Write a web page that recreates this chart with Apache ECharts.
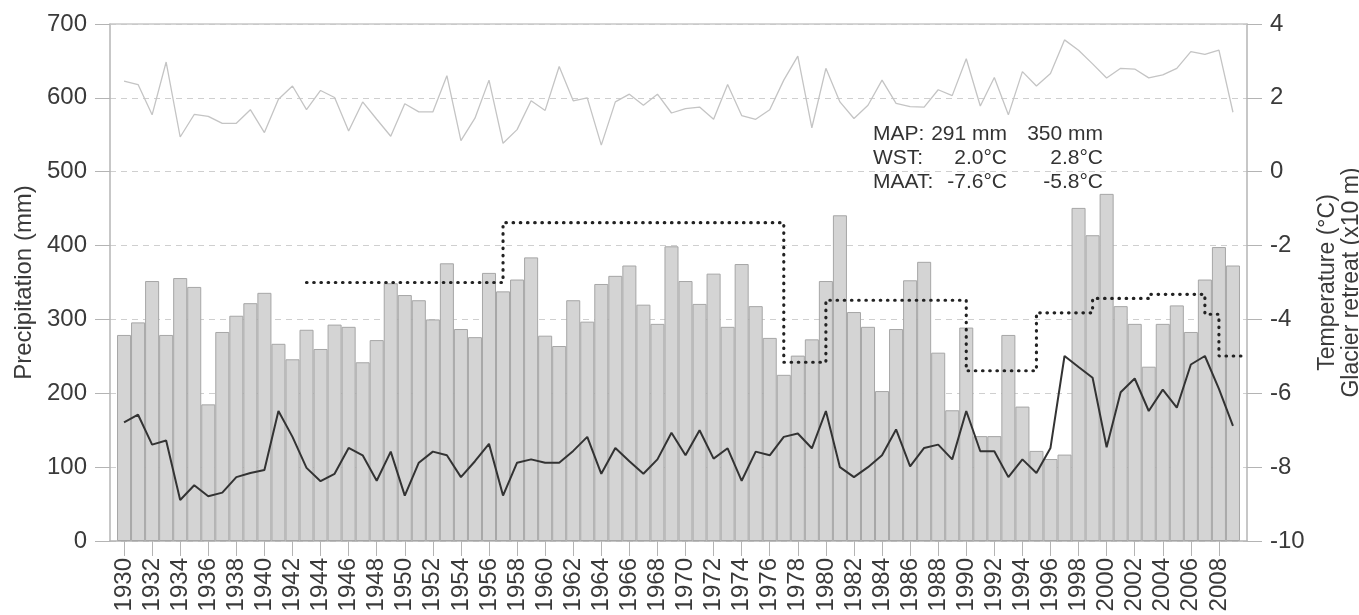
<!DOCTYPE html>
<html>
<head>
<meta charset="utf-8">
<script src="https://cdn.jsdelivr.net/npm/echarts@6/dist/echarts.min.js"></script>
<style>html,body{margin:0;padding:0;background:#fff}#c{width:1359px;height:615px}</style>
</head>
<body>
<div id="c"></div>
<script>
// ---- data ----
const years = [];
for (let y = 1930; y <= 2009; y++) years.push(String(y));

const precipitation = [279,296,352,279,356,344,185,283,305,322,336,267,246,286,260,293,290,242,272,349,
  333,326,300,376,287,276,363,338,354,384,278,264,326,297,348,359,373,320,294,399,
  352,321,362,290,375,318,275,225,251,273,352,441,310,290,203,287,353,378,255,177,
  289,142,142,279,182,122,111,117,451,414,470,318,294,236,294,319,283,354,398,373];

// Warm season temperature (°C)
const wst = [2.45,2.36,1.54,2.97,0.94,1.55,1.50,1.31,1.31,1.68,1.06,1.96,2.32,1.68,2.20,2.01,1.10,1.89,1.42,0.96,
  1.84,1.62,1.62,2.60,0.84,1.45,2.48,0.77,1.14,1.92,1.66,2.85,1.92,2.00,0.72,1.89,2.10,1.80,2.10,1.59,
  1.71,1.75,1.42,2.36,1.52,1.42,1.68,2.48,3.13,1.19,2.80,1.89,1.44,1.80,2.48,1.85,1.76,1.75,2.22,2.06,
  3.06,1.78,2.55,1.54,2.71,2.32,2.66,3.57,3.29,2.92,2.54,2.80,2.78,2.54,2.62,2.80,3.25,3.18,3.29,1.61];

// Mean annual air temperature (°C)
const maat = [-6.79,-6.58,-7.39,-7.28,-8.89,-8.49,-8.79,-8.69,-8.27,-8.16,-8.08,-6.48,-7.18,-8.02,-8.38,-8.18,-7.48,-7.68,-8.37,-7.58,
  -8.77,-7.88,-7.58,-7.68,-8.27,-7.84,-7.37,-8.77,-7.88,-7.79,-7.88,-7.88,-7.56,-7.18,-8.18,-7.48,-7.84,-8.18,-7.79,-7.07,
  -7.68,-7.00,-7.77,-7.49,-8.37,-7.58,-7.68,-7.18,-7.09,-7.49,-6.48,-8.00,-8.27,-8.00,-7.68,-6.98,-7.98,-7.48,-7.39,-7.79,
  -6.48,-7.57,-7.57,-8.27,-7.79,-8.16,-7.48,-4.99,-5.29,-5.58,-7.46,-5.97,-5.60,-6.48,-5.90,-6.39,-5.22,-4.99,-5.88,-6.88];

// Glacier retreat (x10 m), step values (null = no data)
const glacier = [null,null,null,null,null,null,null,null,null,null,null,null,null,
  -3.0,-3.0,-3.0,-3.0,-3.0,-3.0,-3.0,-3.0,-3.0,-3.0,-3.0,-3.0,-3.0,-3.0,
  -1.38,-1.38,-1.38,-1.38,-1.38,-1.38,-1.38,-1.38,-1.38,-1.38,-1.38,-1.38,-1.38,-1.38,-1.38,-1.38,-1.38,-1.38,-1.38,-1.38,
  -5.16,-5.16,-5.16,
  -3.48,-3.48,-3.48,-3.48,-3.48,-3.48,-3.48,-3.48,-3.48,-3.48,
  -5.39,-5.39,-5.39,-5.39,-5.39,
  -3.82,-3.82,-3.82,-3.82,
  -3.43,-3.43,-3.43,-3.43,
  -3.32,-3.32,-3.32,-3.32,
  -3.86,-4.99,-4.99];

const leftTicks = {min: 0, max: 700, interval: 100};
const rightTicks = {min: -10, max: 4, interval: 2};

const annotation = [
  ['MAP:', '291 mm', '350 mm'],
  ['WST:', '2.0°C', '2.8°C'],
  ['MAAT:', '-7.6°C', '-5.8°C']
];

// ---- chart ----
const pad = a => [null].concat(a, [null]);
const axisCats = [String(+years[0] - 1)].concat(years, [String(+years[years.length - 1] + 1)]);
const showYear = (i, v) => { const y = +v; return y >= 1930 && y <= 2008 && y % 2 === 0; };

const FONT = "'Liberation Sans', Arial, sans-serif";
const TXT = '#3a3a3a';
const AX = '#b4b4b4';

const chart = echarts.init(document.getElementById('c'), null, {renderer: 'canvas'});

const graphics = [];
annotation.forEach((row, r) => {
  const y = 134 + r * 24;
  const st = (t, align) => ({text: t, fill: '#333', font: '21px ' + FONT, textAlign: align, textVerticalAlign: 'middle'});
  graphics.push({type: 'text', x: 873, y: y, style: st(row[0], 'left')});
  graphics.push({type: 'text', x: 1007, y: y, style: st(row[1], 'right')});
  graphics.push({type: 'text', x: 1103, y: y, style: st(row[2], 'right')});
});

chart.setOption({
  animation: false,
  backgroundColor: '#fff',
  textStyle: {fontFamily: FONT},
  grid: {left: 110, right: 112, top: 24, bottom: 74, containLabel: false, outerBoundsMode: 'none'},
  xAxis: [{
    type: 'category', data: axisCats, boundaryGap: false,
    axisLine: {onZero: false, lineStyle: {color: AX, width: 1.5}},
    axisTick: {interval: showYear, length: 15, lineStyle: {color: AX}},
    axisLabel: {interval: showYear, rotate: 90, fontSize: 24, color: TXT, fontFamily: FONT, margin: 17},
    splitLine: {show: false}
  }, {
    type: 'category', data: axisCats, boundaryGap: false, position: 'top',
    axisLine: {show: true, onZero: false, lineStyle: {color: '#c8c8c8', width: 1.5}},
    axisTick: {show: false}, axisLabel: {show: false}
  }],
  yAxis: [{
    type: 'value', min: leftTicks.min, max: leftTicks.max, interval: leftTicks.interval,
    name: 'Precipitation (mm)', nameLocation: 'middle', nameRotate: 90, nameGap: 63,
    nameTextStyle: {fontSize: 24, color: TXT, fontFamily: FONT},
    axisLine: {show: true, lineStyle: {color: AX, width: 1.5}},
    axisTick: {show: true, length: 15, lineStyle: {color: AX}},
    axisLabel: {fontSize: 24, color: TXT, fontFamily: FONT, margin: 23},
    splitLine: {show: true, lineStyle: {color: '#cfcfcf', type: [6, 5], width: 1}}
  }, {
    type: 'value', min: rightTicks.min, max: rightTicks.max, interval: rightTicks.interval, position: 'right',
    name: 'Temperature (°C)\nGlacier retreat (x10 m)', nameLocation: 'middle', nameRotate: 90, nameGap: 59,
    nameTextStyle: {fontSize: 23, color: TXT, fontFamily: FONT, lineHeight: 24},
    axisLine: {show: true, lineStyle: {color: AX, width: 1.5}},
    axisTick: {show: true, length: 15, lineStyle: {color: AX}},
    axisLabel: {fontSize: 24, color: TXT, fontFamily: FONT, margin: 23},
    splitLine: {show: false}
  }],
  series: [{
    type: 'bar', data: pad(precipitation), yAxisIndex: 0, barCategoryGap: '0%',
    itemStyle: {color: '#d4d4d4', borderColor: '#a6a6a6', borderWidth: 1}
  }, {
    type: 'line', data: pad(wst), yAxisIndex: 1, showSymbol: false, symbol: 'none',
    lineStyle: {color: '#c4c4c4', width: 1.3}
  }, {
    type: 'line', data: pad(maat), yAxisIndex: 1, showSymbol: false, symbol: 'none',
    lineStyle: {color: '#333', width: 2}
  }, {
    type: 'line', data: pad(glacier), yAxisIndex: 1, showSymbol: false, symbol: 'none', step: 'end',
    lineStyle: {color: '#222', width: 3.2, type: [0.5, 6.7], cap: 'round'}
  }],
  graphic: graphics
});
</script>
</body>
</html>
